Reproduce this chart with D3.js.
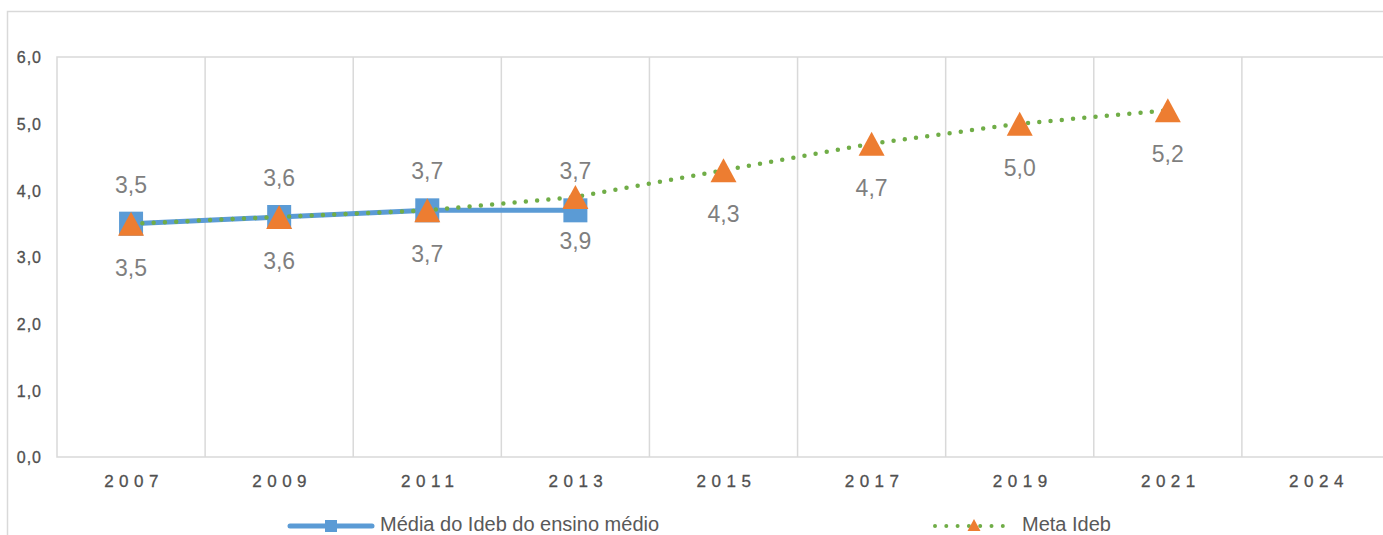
<!DOCTYPE html>
<html>
<head>
<meta charset="utf-8">
<script src="https://cdn.jsdelivr.net/npm/d3@7"></script>
<style>
  body { margin: 0; background: #fff; }
  text { font-family: "Liberation Sans", Arial, sans-serif; }
</style>
</head>
<body>
<div id="chart"></div>
<script>
// chart data
var years = ["2007", "2009", "2011", "2013", "2015", "2017", "2019", "2021", "2024"];
var mediaIdeb = [3.5, 3.6, 3.7, 3.7];            // 2007..2013
var metaIdeb = [3.5, 3.6, 3.7, 3.9, 4.3, 4.7, 5.0, 5.2]; // 2007..2021
var yTicks = [0, 1, 2, 3, 4, 5, 6];
var seriesNames = ["Média do Ideb do ensino médio", "Meta Ideb"];

var W = 1383, H = 535;
var plot = { left: 57, top: 57, right: 1390, bottom: 457 };

var blue = "#5b9bd5", orange = "#ed7d31", green = "#70ad47";
var gridColor = "#d9d9d9";

var svg = d3.select("#chart").append("svg")
	.attr("width", W)
	.attr("height", H);

// outer frame (chart area border, runs off the picture right and bottom)
svg.append("rect")
	.attr("x", 7.5).attr("y", 11.5)
	.attr("width", W + 20).attr("height", H + 20)
	.attr("fill", "none")
	.attr("stroke", gridColor)
	.attr("stroke-width", 1.5);

var x = d3.scaleBand()
	.domain(years)
	.range([plot.left, plot.right]);

var y = d3.scaleLinear()
	.domain([0, 6])
	.range([plot.bottom, plot.top]);

function cx(i) { return x(years[i]) + x.bandwidth() / 2; }

// plot area border + vertical gridlines between categories
svg.append("rect")
	.attr("x", plot.left).attr("y", plot.top)
	.attr("width", plot.right - plot.left).attr("height", plot.bottom - plot.top)
	.attr("fill", "none")
	.attr("stroke", gridColor)
	.attr("stroke-width", 1.5);

svg.selectAll(".vgrid")
	.data(years.slice(1))
	.enter()
	.append("line")
	.attr("x1", d => x(d)).attr("x2", d => x(d))
	.attr("y1", plot.top).attr("y2", plot.bottom)
	.attr("stroke", gridColor)
	.attr("stroke-width", 1.5);

var fmt = d => d3.format(".1f")(d).replace(".", ",");

// y axis labels
var yAxis = svg.append("g")
	.attr("transform", "translate(" + (plot.left - 15) + ",0)")
	.call(d3.axisLeft(y).tickValues(yTicks).tickSize(0).tickFormat(fmt));
yAxis.select(".domain").remove();
yAxis.selectAll("text")
	.attr("x", 0)
	.attr("dy", "0.36em")
	.attr("font-size", "16px")
	.attr("font-family", "Liberation Sans, Arial, sans-serif")
	.attr("fill", "#505050")
	.attr("stroke", "#505050")
	.attr("stroke-width", 0.3)
	.style("letter-spacing", "1px");

// x axis labels (spaced letters)
var xAxis = svg.append("g")
	.attr("transform", "translate(3," + plot.bottom + ")")
	.call(d3.axisBottom(x).tickSize(0));
xAxis.select(".domain").remove();
xAxis.selectAll("text")
	.attr("y", 30)
	.attr("dy", 0)
	.attr("font-size", "17px")
	.attr("font-family", "Liberation Sans, Arial, sans-serif")
	.attr("fill", "#505050")
	.attr("stroke", "#505050")
	.attr("stroke-width", 0.3)
	.style("letter-spacing", "5.5px");

// series 1: Média do Ideb
var line = d3.line()
	.x((d, i) => cx(i))
	.y(d => y(d));

svg.append("path")
	.datum(mediaIdeb)
	.attr("d", line)
	.attr("fill", "none")
	.attr("stroke", blue)
	.attr("stroke-width", 5);

svg.selectAll(".sq")
	.data(mediaIdeb)
	.enter()
	.append("rect")
	.attr("x", (d, i) => cx(i) - 12)
	.attr("y", d => y(d) - 12)
	.attr("width", 24)
	.attr("height", 24)
	.attr("fill", blue);

// series 2: Meta Ideb
svg.append("path")
	.datum(metaIdeb)
	.attr("d", line)
	.attr("fill", "none")
	.attr("stroke", green)
	.attr("stroke-width", 4.5)
	.attr("stroke-linecap", "round")
	.attr("stroke-dasharray", "0 11.3");

function tri(w, h) {
	return "M0," + (-h / 2) + "L" + (w / 2) + "," + (h / 2) + "L" + (-w / 2) + "," + (h / 2) + "Z";
}

svg.selectAll(".tri")
	.data(metaIdeb)
	.enter()
	.append("path")
	.attr("d", tri(26, 24))
	.attr("transform", (d, i) => "translate(" + cx(i) + "," + y(d) + ")")
	.attr("fill", orange);

// data labels: series 1 above, series 2 below
svg.selectAll(".lab1")
	.data(mediaIdeb)
	.enter()
	.append("text")
	.attr("x", (d, i) => cx(i))
	.attr("y", d => y(d) - 31)
	.attr("text-anchor", "middle")
	.attr("font-size", "23px")
	.attr("fill", "#7f7f7f")
	.text(fmt);

svg.selectAll(".lab2")
	.data(metaIdeb)
	.enter()
	.append("text")
	.attr("x", (d, i) => cx(i))
	.attr("y", d => y(d) + 52)
	.attr("text-anchor", "middle")
	.attr("font-size", "23px")
	.attr("fill", "#7f7f7f")
	.text(fmt);

// legend
var ly = 526;
svg.append("line")
	.attr("x1", 290).attr("x2", 372)
	.attr("y1", ly).attr("y2", ly)
	.attr("stroke", blue)
	.attr("stroke-width", 5)
	.attr("stroke-linecap", "round");
svg.append("rect")
	.attr("x", 325).attr("y", ly - 6)
	.attr("width", 12).attr("height", 12)
	.attr("fill", blue);
svg.append("text")
	.attr("x", 380).attr("y", 531)
	.attr("font-size", "20px")
	.attr("fill", "#595959")
	.text(seriesNames[0]);

svg.append("line")
	.attr("x1", 935).attr("x2", 1003)
	.attr("y1", ly).attr("y2", ly)
	.attr("stroke", green)
	.attr("stroke-width", 4)
	.attr("stroke-linecap", "round")
	.attr("stroke-dasharray", "0 11.3");
svg.append("path")
	.attr("d", tri(13, 12))
	.attr("transform", "translate(974," + (ly - 1) + ")")
	.attr("fill", orange);
svg.append("text")
	.attr("x", 1022).attr("y", 531)
	.attr("font-size", "20px")
	.attr("fill", "#595959")
	.text(seriesNames[1]);
</script>
</body>
</html>
